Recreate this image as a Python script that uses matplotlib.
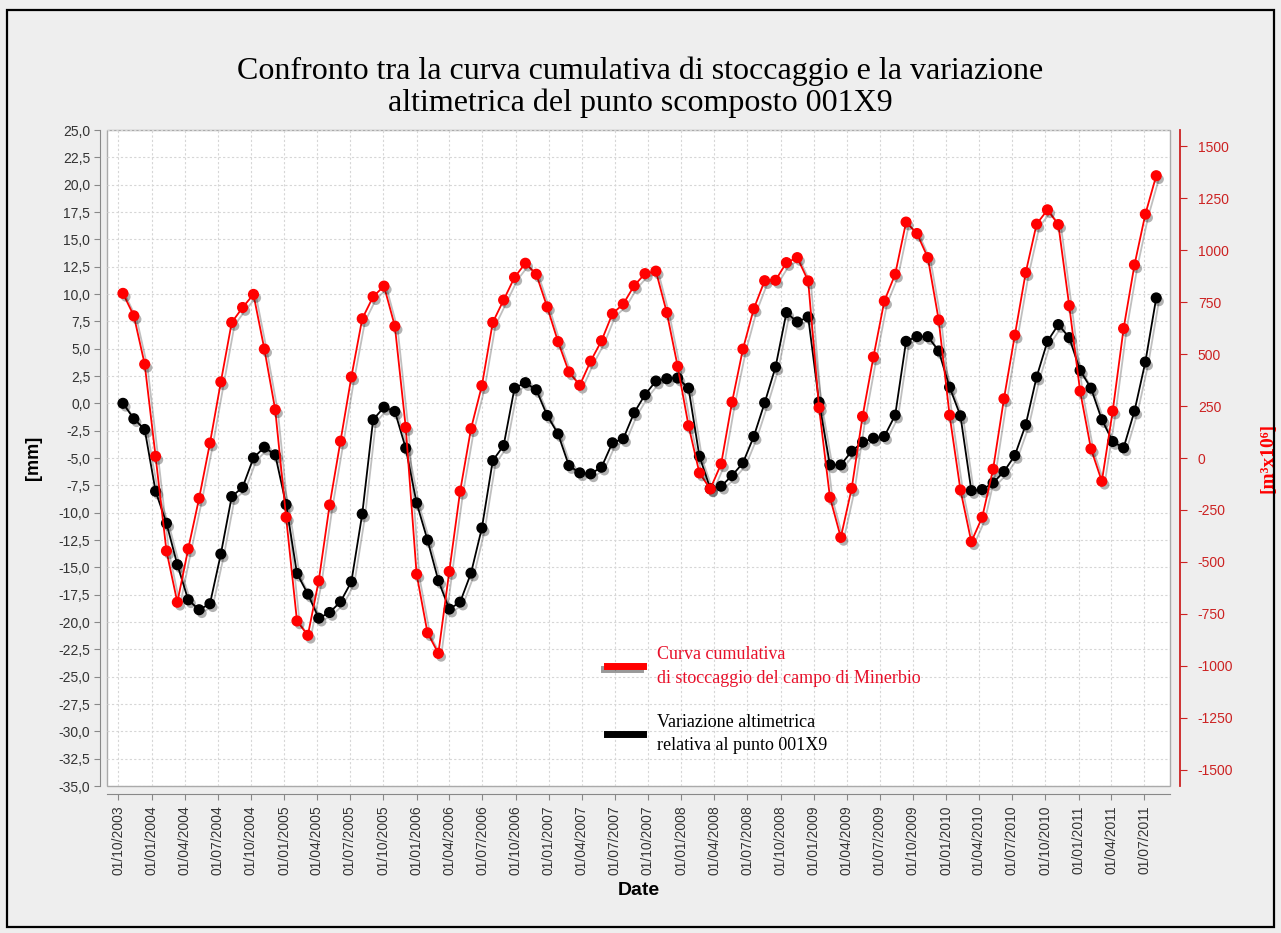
import matplotlib
matplotlib.use("Agg")
import matplotlib.pyplot as plt
import matplotlib.dates as mdates
import matplotlib.patheffects as pe
from matplotlib.lines import Line2D
from matplotlib.patches import Rectangle
from matplotlib.ticker import FuncFormatter, MultipleLocator
import pandas as pd

plt.rcParams["axes.unicode_minus"] = False

# ---------------- data ----------------
dates = pd.date_range("2003-10-14", periods=96, freq="30D")

# storage curve [m3 x 10^6] (right axis)
storage = [792, 684, 451, 8, -447, -694, -437, -194, 72, 366,
           652, 724, 787, 524, 232, -285, -784, -853, -591, -226,
           81, 390, 670, 776, 827, 634, 147, -559, -841, -940,
           -546, -160, 141, 348, 652, 760, 869, 937, 884, 727,
           560, 414, 350, 466, 564, 694, 741, 829, 887, 899,
           700, 441, 155, -72, -149, -28, 269, 524, 718, 853,
           855, 940, 964, 852, 242, -189, -382, -146, 200, 486,
           755, 884, 1135, 1080, 964, 664, 206, -154, -403, -285,
           -54, 285, 591, 892, 1125, 1194, 1123, 733, 322, 44,
           -112, 226, 623, 929, 1173, 1358]

# vertical displacement [mm] (left axis)
displacement = [0.0, -1.41, -2.39, -8.04, -10.97, -14.76, -17.97, -18.88, -18.33, -13.78,
                -8.53, -7.68, -4.99, -4.01, -4.71, -9.26, -15.56, -17.45, -19.65, -19.13,
                -18.15, -16.32, -10.12, -1.5, -0.35, -0.74, -4.1, -9.11, -12.5, -16.22,
                -18.82, -18.18, -15.53, -11.4, -5.24, -3.86, 1.39, 1.89, 1.24, -1.11,
                -2.79, -5.69, -6.36, -6.45, -5.84, -3.61, -3.24, -0.86, 0.79, 2.04,
                2.25, 2.31, 1.39, -4.84, -7.8, -7.58, -6.61, -5.45, -3.03, 0.05,
                3.32, 8.3, 7.44, 7.9, 0.11, -5.63, -5.63, -4.38, -3.55, -3.19,
                -3.03, -1.08, 5.67, 6.1, 6.1, 4.79, 1.48, -1.14, -7.98, -7.89,
                -7.28, -6.24, -4.77, -1.96, 2.4, 5.67, 7.2, 6.01, 3.01, 1.39,
                -1.5, -3.49, -4.07, -0.71, 3.78, 9.64]

x_ticks = pd.date_range("2003-10-01", "2011-07-01", freq="3MS")

title = ("Confronto tra la curva cumulativa di stoccaggio e la variazione\n"
         "altimetrica del punto scomposto 001X9")
label_red = "Curva cumulativa\ndi stoccaggio del campo di Minerbio"
label_black = "Variazione altimetrica\nrelativa al punto 001X9"

# ---------------- figure ----------------
W, H = 1281, 933
fig = plt.figure(figsize=(W / 100, H / 100), dpi=100)
fig.patch.set_facecolor("#EEEEEE")

# outer border
fig.patches.append(Rectangle((7 / W, 1 - 927 / H), (1274 - 7) / W, (927 - 10) / H,
                             transform=fig.transFigure, fill=False,
                             edgecolor="black", linewidth=1.6))

L, R, T, B = 107, 1170, 130, 786
ax = fig.add_axes([L / W, 1 - B / H, (R - L) / W, (B - T) / H])
ax.set_facecolor("white")
ax.patch.set_edgecolor("#AAAAAA")
ax.patch.set_linewidth(1.0)

RED = "#FF0000"
AXRED = "#CC2222"
GRAY = "#888888"

ax.set_xlim(pd.Timestamp("2003-08-31"), pd.Timestamp("2011-09-10"))
ax.set_ylim(-35, 25)
ax.yaxis.set_major_locator(MultipleLocator(2.5))
ax.yaxis.set_major_formatter(FuncFormatter(lambda v, p: f"{v:.1f}".replace(".", ",")))
ax.set_xticks(x_ticks)
ax.xaxis.set_major_formatter(mdates.DateFormatter("%d/%m/%Y"))

ax.grid(True, color="#D6D6D6", linestyle=(0, (2, 2)), linewidth=0.8)
ax.set_axisbelow(True)

for s in ["top", "right"]:
    ax.spines[s].set_visible(False)
ax.spines["left"].set_position(("outward", 5))
ax.spines["bottom"].set_position(("outward", 6))
ax.spines["left"].set_color(GRAY)
ax.spines["bottom"].set_color(GRAY)

ax.tick_params(axis="y", direction="out", length=4, color=GRAY, labelsize=10,
               labelcolor="#333333", pad=3)
ax.tick_params(axis="x", direction="out", length=4, color=GRAY, labelsize=10,
               labelcolor="#333333", labelrotation=90, pad=4)
for lab in ax.get_xticklabels() + ax.get_yticklabels():
    lab.set_fontfamily(["Liberation Sans", "DejaVu Sans"])

ax.set_xlabel("Date", fontsize=14, fontweight="bold",
              family=["Liberation Sans", "DejaVu Sans"], labelpad=5)
ax.set_ylabel("[mm]", fontsize=13, fontweight="bold",
              family=["Liberation Sans", "DejaVu Sans"], labelpad=12)

# right axis
ax2 = ax.twinx()
ax2.set_ylim(-1578, 1578)
ax2.yaxis.set_major_locator(MultipleLocator(250))
for s in ["top", "left", "bottom"]:
    ax2.spines[s].set_visible(False)
ax2.spines["right"].set_position(("outward", 7))
ax2.spines["right"].set_color(AXRED)
ax2.spines["right"].set_linewidth(1.3)
ax2.tick_params(axis="y", direction="out", length=5, color=AXRED, labelsize=10,
                labelcolor=AXRED, pad=8)
for lab in ax2.get_yticklabels():
    lab.set_fontfamily(["Liberation Sans", "DejaVu Sans"])
ax2.set_ylabel("[m³x10⁶]", fontsize=14, fontweight="bold", color=RED,
               family=["Liberation Serif", "DejaVu Serif"], labelpad=19)

shadow_line = [pe.SimpleLineShadow(offset=(2, -2), shadow_color="black", alpha=0.25),
               pe.Normal()]
shadow_mark = [pe.SimplePatchShadow(offset=(2, -2.5), shadow_rgbFace="black", alpha=0.3),
               pe.Normal()]

# black series (left axis)
ax.plot(dates, displacement, color="black", linewidth=1.3, zorder=3,
        path_effects=shadow_line)
ax.plot(dates, displacement, linestyle="none", marker="o", markersize=7,
        color="black", zorder=4, path_effects=shadow_mark)

# red series (right axis)
ax2.plot(dates, storage, color=RED, linewidth=1.3, zorder=3,
         path_effects=shadow_line)
ax2.plot(dates, storage, linestyle="none", marker="o", markersize=7,
         color=RED, zorder=4, path_effects=shadow_mark)

# title
fig.text(640 / W, 1 - 87 / H, title, ha="center", va="center", fontsize=23,
         family=["Liberation Serif", "DejaVu Serif"], linespacing=1.12)

# legend
handles = [Line2D([], [], color=RED, linewidth=5,
                  path_effects=[pe.SimpleLineShadow(offset=(-2, -2), alpha=0.4), pe.Normal()]),
           Line2D([], [], color="black", linewidth=5)]
leg = fig.legend(handles, [label_red, label_black], loc="upper left",
                 bbox_to_anchor=(598 / W, 1 - 637 / H), bbox_transform=fig.transFigure,
                 frameon=False, borderpad=0, handlelength=2.0, handletextpad=0.75,
                 labelspacing=1.5, prop={"family": ["Liberation Serif", "DejaVu Serif"],
                                         "size": 13})
leg.get_texts()[0].set_color("#E8102A")
leg.get_texts()[1].set_color("black")
for t in leg.get_texts():
    t.set_linespacing(1.5)

fig.savefig("out.png", dpi=100, facecolor=fig.get_facecolor())
